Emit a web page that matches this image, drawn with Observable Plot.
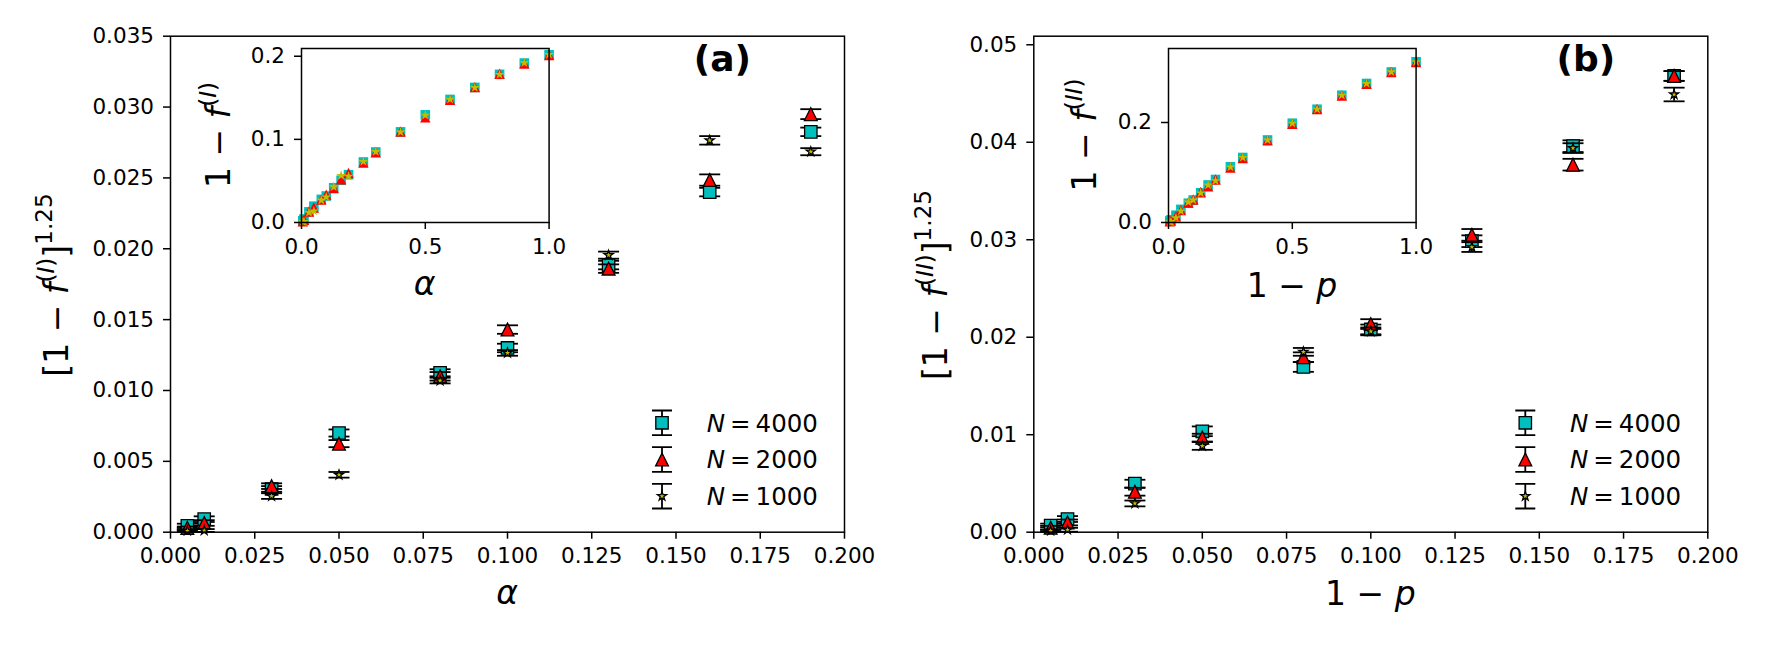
<!DOCTYPE html>
<html>
<head>
<meta charset="utf-8">
<script src="https://cdn.jsdelivr.net/npm/d3@7"></script>
<script src="https://cdn.jsdelivr.net/npm/@observablehq/plot@0.6"></script>
<style>
  body { margin: 0; background: #fff; }
  #fig { position: relative; width: 1770px; height: 645px; background: #fff; overflow: hidden; }
  #fig svg { position: absolute; }
</style>
</head>
<body>
<div id="fig"></div>
<script>
// ---------------- data ----------------
const xMain = [0.005, 0.01, 0.03, 0.05, 0.08, 0.10, 0.13, 0.16, 0.19];

// panel (a): [1 - f^(I)]^1.25 vs alpha
const a4000 = [0.00045, 0.00092, 0.00305, 0.00700, 0.01125, 0.01300, 0.01885, 0.02400, 0.02825];
const a4000err = [0.00015, 0.0002, 0.0002, 0.00025, 0.00025, 0.0003, 0.0003, 0.0003, 0.0003];
const a2000 = [0.00030, 0.00065, 0.00325, 0.00625, 0.01100, 0.01430, 0.01860, 0.02485, 0.02950];
const a2000err = [0.0001, 0.0002, 0.0002, 0.00025, 0.0003, 0.0003, 0.0003, 0.0004, 0.00035];
const a1000 = [0.00010, 0.00012, 0.00255, 0.00405, 0.01070, 0.01265, 0.01955, 0.02765, 0.02685];
const a1000err = [0.00005, 0.0001, 0.0002, 0.0002, 0.0002, 0.0002, 0.00025, 0.0003, 0.00025];

// panel (b): [1 - f^(II)]^1.25 vs 1-p
const b4000 = [0.00068, 0.00135, 0.00498, 0.01035, 0.01695, 0.02080, 0.02985, 0.03960, 0.04680];
const b4000err = [0.0002, 0.0003, 0.0004, 0.0005, 0.0005, 0.0005, 0.0006, 0.0006, 0.0005];
const b2000 = [0.00045, 0.00100, 0.00415, 0.00970, 0.01795, 0.02135, 0.03050, 0.03770, 0.04680];
const b2000err = [0.0002, 0.0003, 0.0004, 0.0004, 0.0005, 0.0005, 0.0006, 0.0006, 0.0005];
const b1000 = [0.00015, 0.00025, 0.00295, 0.00885, 0.01850, 0.02060, 0.02925, 0.03940, 0.04490];
const b1000err = [0.0001, 0.0002, 0.0003, 0.0004, 0.0004, 0.0004, 0.0005, 0.0005, 0.0007];

// insets: 1 - f vs alpha / 1-p
const xInset = [0.005, 0.01, 0.03, 0.05, 0.08, 0.10, 0.13, 0.16, 0.19, 0.25, 0.3, 0.4, 0.5, 0.6, 0.7, 0.8, 0.9, 1.0];
const ia4000 = [0.0020, 0.0042, 0.0128, 0.0196, 0.0278, 0.0318, 0.0418, 0.0508, 0.0575, 0.0728, 0.0848, 0.1090, 0.1295, 0.1480, 0.1625, 0.1782, 0.1918, 0.2018];
const ia2000 = [0.0015, 0.0032, 0.0132, 0.0180, 0.0275, 0.0335, 0.0415, 0.0520, 0.0595, 0.0720, 0.0845, 0.1095, 0.1265, 0.1475, 0.1628, 0.1790, 0.1912, 0.2015];
const ia1000 = [0.0008, 0.0010, 0.0120, 0.0138, 0.0268, 0.0305, 0.0428, 0.0565, 0.0555, 0.0732, 0.0852, 0.1088, 0.1290, 0.1482, 0.1622, 0.1780, 0.1920, 0.2020];
const ib4000 = [0.0030, 0.0052, 0.0145, 0.0262, 0.0385, 0.0450, 0.0595, 0.0750, 0.0860, 0.1115, 0.1300, 0.1650, 0.1985, 0.2265, 0.2545, 0.2780, 0.3010, 0.3215];
const ib2000 = [0.0022, 0.0040, 0.0125, 0.0248, 0.0400, 0.0460, 0.0610, 0.0722, 0.0860, 0.1100, 0.1290, 0.1645, 0.1975, 0.2270, 0.2540, 0.2775, 0.3010, 0.3210];
const ib1000 = [0.0010, 0.0015, 0.0093, 0.0228, 0.0408, 0.0448, 0.0590, 0.0748, 0.0835, 0.1110, 0.1300, 0.1650, 0.1985, 0.2265, 0.2545, 0.2780, 0.3012, 0.3215];

// ticks
const xTicksMain = [0, 0.025, 0.05, 0.075, 0.1, 0.125, 0.15, 0.175, 0.2];
const yTicksA = [0, 0.005, 0.01, 0.015, 0.02, 0.025, 0.03, 0.035];
const yTicksB = [0, 0.01, 0.02, 0.03, 0.04, 0.05];
const xTicksInset = [0, 0.5, 1.0];
const yTicksInsetA = [0, 0.1, 0.2];
const yTicksInsetB = [0, 0.2];
const legendLabels = ["4000", "2000", "1000"];

// ---------------- symbols (matplotlib-like) ----------------
const symSquare = {draw(c, s) { const h = Math.sqrt(s / Math.PI); c.moveTo(-h, -h); c.lineTo(h, -h); c.lineTo(h, h); c.lineTo(-h, h); c.closePath(); }};
const symTri = {draw(c, s) { const h = Math.sqrt(s / Math.PI); c.moveTo(0, -h); c.lineTo(h, h); c.lineTo(-h, h); c.closePath(); }};
const symStar = {draw(c, s) {
  const R = Math.sqrt(s / Math.PI), r = R * 0.381966;
  for (let k = 0; k < 10; k++) {
    const a = -Math.PI / 2 + k * Math.PI / 5, rr = k % 2 ? r : R;
    const px = rr * Math.cos(a), py = rr * Math.sin(a);
    if (k) c.lineTo(px, py); else c.moveTo(px, py);
  }
  c.closePath();
}};
const symCap = {draw(c, s) { const h = Math.sqrt(s / Math.PI); c.moveTo(-h, 0); c.lineTo(h, 0); }};
const symLegendBar = {draw(c, s) {
  const h = Math.sqrt(s / Math.PI);
  c.moveTo(0, -h); c.lineTo(0, h);
  c.moveTo(-10, -h); c.lineTo(10, -h);
  c.moveTo(-10, h); c.lineTo(10, h);
}};

const styles = [
  {sym: symSquare, fill: "#00bfbf", r: 6.2, ri: 4.8},
  {sym: symTri, fill: "#ff0000", r: 6.4, ri: 5.2},
  {sym: symStar, fill: "#bfbf00", r: 4.8, ri: 5.2}
];

const baseStyle = {fontFamily: "DejaVu Sans", fontSize: "21.5px", color: "black", background: "none", overflow: "visible"};
const fig = document.getElementById("fig");

function place(svg, left, top) {
  svg.style.position = "absolute";
  svg.style.left = left + "px";
  svg.style.top = top + "px";
  svg.style.overflow = "visible";
  svg.style.background = "none";
  fig.appendChild(svg);
}

function makeMain(cfg) {
  const marks = [];
  cfg.series.forEach((s, i) => {
    const d = xMain.map((x, k) => ({x, y: s.y[k], e: s.e[k]}));
    const st = styles[i];
    marks.push(
      Plot.ruleX(d, {x: "x", y1: (r) => r.y - r.e, y2: (r) => r.y + r.e, stroke: "black", strokeWidth: 1.8}),
      Plot.dot(d, {x: "x", y: (r) => r.y - r.e, symbol: symCap, r: 10.5, fill: "none", stroke: "black", strokeWidth: 1.8}),
      Plot.dot(d, {x: "x", y: (r) => r.y + r.e, symbol: symCap, r: 10.5, fill: "none", stroke: "black", strokeWidth: 1.8}),
      Plot.dot(d, {x: "x", y: "y", symbol: st.sym, r: st.r, fill: st.fill, stroke: "black", strokeWidth: 1.3})
    );
  });
  // legend glyphs
  styles.forEach((st, i) => {
    const dy = 386.6 + i * 36.7;
    marks.push(
      Plot.dot([0], {frameAnchor: "top-left", dx: 491.5, dy, symbol: symLegendBar, r: 12.3, fill: "none", stroke: "black", strokeWidth: 1.8}),
      Plot.dot([0], {frameAnchor: "top-left", dx: 491.5, dy, symbol: st.sym, r: st.r, fill: st.fill, stroke: "black", strokeWidth: 1.3})
    );
  });
  marks.push(
    Plot.axisX({ticks: xTicksMain, tickFormat: (d) => d.toFixed(3), tickSize: 7, tickPadding: 9, strokeWidth: 1.5, label: null}),
    Plot.axisY({ticks: cfg.yTicks, tickFormat: (d) => d.toFixed(cfg.yDigits), tickSize: 7, tickPadding: 9.5, strokeWidth: 1.5, label: null}),
    Plot.frame({stroke: "black", strokeWidth: 1.5})
  );
  return Plot.plot({
    width: 885, height: 645,
    marginLeft: cfg.ml, marginRight: cfg.mr, marginTop: 35.7, marginBottom: 113.3,
    x: {domain: [0, 0.2]},
    y: {domain: cfg.yDomain},
    style: baseStyle,
    marks
  });
}

function makeInset(cfg) {
  const marks = [Plot.frame({fill: "white", stroke: "none"})];
  cfg.series.forEach((ys, i) => {
    const d = xInset.map((x, k) => ({x, y: ys[k]}));
    const st = styles[i];
    marks.push(Plot.dot(d, {x: "x", y: "y", symbol: st.sym, r: st.ri, fill: st.fill, stroke: "none"}));
  });
  marks.push(
    Plot.axisX({ticks: xTicksInset, tickFormat: (d) => d.toFixed(1), tickSize: 7, tickPadding: 9, strokeWidth: 1.5, label: null}),
    Plot.axisY({ticks: cfg.yTicks, tickFormat: (d) => d.toFixed(1), tickSize: 7, tickPadding: 9.5, strokeWidth: 1.5, label: null}),
    Plot.frame({stroke: "black", strokeWidth: 1.5})
  );
  return Plot.plot({
    width: 110 + 247.6 + 12, height: 10 + 174 + 80,
    marginLeft: 110, marginRight: 12, marginTop: 10, marginBottom: 80,
    x: {domain: [0, 1]},
    y: {domain: cfg.yDomain},
    style: baseStyle,
    marks
  });
}

place(makeMain({series: [{y: a4000, e: a4000err}, {y: a2000, e: a2000err}, {y: a1000, e: a1000err}],
  yDomain: [0, 0.035], yTicks: yTicksA, yDigits: 3, ml: 170, mr: 41}), 0, 0);
place(makeMain({series: [{y: b4000, e: b4000err}, {y: b2000, e: b2000err}, {y: b1000, e: b1000err}],
  yDomain: [0, 0.05088], yTicks: yTicksB, yDigits: 2, ml: 148.3, mr: 62.7}), 885, 0);
place(makeInset({series: [ia4000, ia2000, ia1000], yDomain: [0, 0.2093], yTicks: yTicksInsetA}), 300.7 - 110, 38.3);
place(makeInset({series: [ib4000, ib2000, ib1000], yDomain: [0, 0.348], yTicks: yTicksInsetB}), 1168.3 - 110, 38.3);

// ---------------- text overlay ----------------
const ov = d3.select("#fig").append("svg")
  .attr("width", 1770).attr("height", 645)
  .style("left", "0px").style("top", "0px").style("pointer-events", "none")
  .attr("font-family", "DejaVu Sans");

function mathText(x, y, rot, size, parts, opts = {}) {
  const t = ov.append("text")
    .attr("transform", `translate(${x},${y})` + (rot ? ` rotate(${rot})` : ""))
    .attr("text-anchor", opts.anchor || "middle")
    .attr("font-size", size).attr("fill", "black");
  if (opts.bold) t.attr("font-weight", "bold");
  let cur = 0;
  for (const p of parts) {
    const raise = p.sup ? (p.raise || 0.42) * size : 0;
    const ts = t.append("tspan").text(p.t);
    if (p.it) ts.attr("font-style", "italic");
    if (p.sup) ts.attr("font-size", size * 0.7);
    if (raise !== cur) ts.attr("dy", -(raise - cur));
    if (p.dx) ts.attr("dx", p.dx);
    cur = raise;
  }
  return t;
}

const LS = 33;
// x labels
mathText(507, 604, 0, LS, [{t: "α", it: true}]);
mathText(1370.3, 605, 0, LS, [{t: "1 − "}, {t: "p", it: true}]);
// y labels
mathText(68, 285, -90, LS, [{t: "[1 − "}, {t: "f", it: true}, {t: "(", sup: true}, {t: "I", sup: true, it: true}, {t: ")", sup: true}, {t: "]"}, {t: "1.25", sup: true, raise: 0.5}]);
mathText(947, 285, -90, LS, [{t: "[1 − "}, {t: "f", it: true}, {t: "(", sup: true}, {t: "II", sup: true, it: true}, {t: ")", sup: true}, {t: "]"}, {t: "1.25", sup: true, raise: 0.5}]);
// inset labels
mathText(424.5, 295, 0, LS, [{t: "α", it: true}]);
mathText(1292, 297, 0, LS, [{t: "1 − "}, {t: "p", it: true}]);
mathText(229.6, 135, -90, LS, [{t: "1 − "}, {t: "f", it: true}, {t: "(", sup: true}, {t: "I", sup: true, it: true}, {t: ")", sup: true}]);
mathText(1095.7, 135, -90, LS, [{t: "1 − "}, {t: "f", it: true}, {t: "(", sup: true}, {t: "II", sup: true, it: true}, {t: ")", sup: true}]);
// panel labels
mathText(722.3, 71, 0, 36, [{t: "(a)"}], {bold: true});
mathText(1585.8, 71, 0, 36, [{t: "(b)"}], {bold: true});
// legend labels
[170, 1033.3].forEach((fl) => {
  legendLabels.forEach((lab, i) => {
    const y = 35.7 + 386.6 + i * 36.7 + 9.3;
    mathText(fl + 536.7, y, 0, 24.5, [{t: "N", it: true}, {t: "=", dx: 5}, {t: lab, dx: 5}], {anchor: "start"});
  });
});
</script>
</body>
</html>
